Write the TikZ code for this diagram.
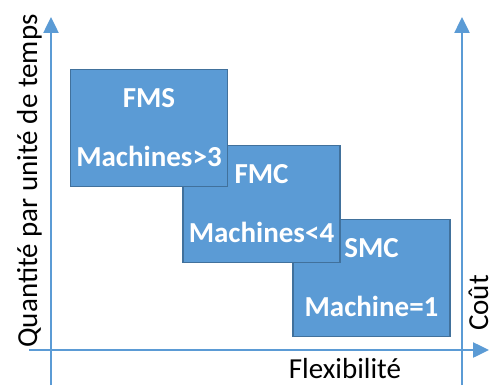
\documentclass[tikz,border=0pt]{standalone}
\usepackage{fontspec}
\setmainfont{Carlito}
\usetikzlibrary{arrows.meta,positioning,calc}
\definecolor{axisblue}{RGB}{91,155,213}
\definecolor{boxedge}{RGB}{65,113,156}

\tikzset{
  machbox/.style={draw=boxedge, fill=axisblue, line width=1.5pt,
                  minimum width=157pt, minimum height=117pt, inner sep=0pt},
  boxlbl/.style={white, font=\bfseries\fontsize{29}{31}\selectfont, anchor=base},
  axislbl/.style={font=\fontsize{29}{31}\selectfont, anchor=base, inner sep=0pt},
  axis/.style={draw=axisblue, line width=2.5pt, -{Triangle[width=15pt,length=16pt]}}
}

\begin{document}
\begin{tikzpicture}[x=1pt, y=-1pt, >=Latex]
\useasboundingbox (0,0) rectangle (494,385);
% axes
\coordinate (qbot) at (51,385);  \coordinate (qtop) at (51,17);
\coordinate (cbot) at (462,385); \coordinate (ctop) at (462,17);
\coordinate (fl) at (29,350);    \coordinate (fr) at (489,350);
\draw[axis] (qbot) -- (qtop);
\draw[axis] (cbot) -- (ctop);
\draw[axis] (fl) -- (fr);
\node[axislbl, rotate=90] (qlbl) at (37,181) {Quantité par unité de temps};
\node[axislbl, rotate=90] (clbl) at (488,303) {Coût};
\node[axislbl] (flbl) at (345,378) {Flexibilité};
% machine classes, back to front
\node[machbox] (smc) at (371.5,278) {};
\node[machbox] (fmc) at (261.5,204) {};
\node[machbox] (fms) at (149,128) {};
\foreach \b/\t/\s in {smc/SMC/Machine=1, fmc/FMC/Machines<4, fms/FMS/Machines>3}{
  \node[boxlbl] (\b name) at ($(\b.north)+(0,39)$) {\t};
  \node[boxlbl] (\b count) at ($(\b.north)+(0,98)$) {\s};
}
\end{tikzpicture}
\end{document}
